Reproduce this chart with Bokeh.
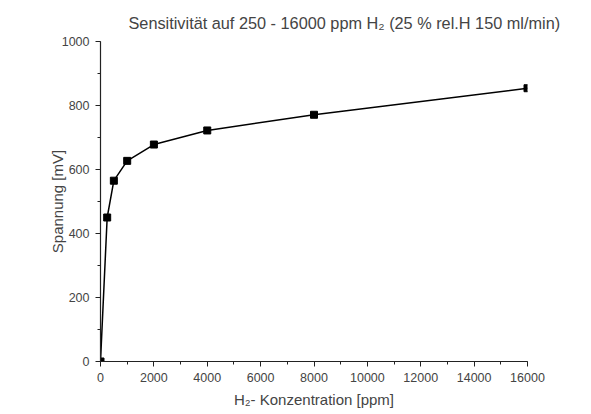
from bokeh.plotting import figure
from bokeh.models import Range1d, FixedTicker, Title
from bokeh.embed import file_html
from bokeh.resources import INLINE

# H2 concentration (ppm) and sensor voltage (mV)
konzentration_ppm = [0, 250, 500, 1000, 2000, 4000, 8000, 16000]
spannung_mv = [0, 450, 565, 627, 678, 722, 771, 854]

x_ticks = [0, 2000, 4000, 6000, 8000, 10000, 12000, 14000, 16000]
y_ticks = [0, 200, 400, 600, 800, 1000]

FONT = "Liberation Sans"
TEXT = "#444444"

p = figure(
    width=591, height=414,
    frame_width=427, frame_height=320,
    min_border_left=100, min_border_right=64,
    min_border_top=41, min_border_bottom=53,
    x_range=Range1d(0, 16000), y_range=Range1d(0, 1000),
    output_backend="svg", toolbar_location=None,
)

p.title = Title(
    text="Sensitivität auf 250 - 16000 ppm H₂ (25 % rel.H 150 ml/min)",
    align="left", offset=28,
    text_font=FONT, text_font_size="16.3px", text_font_style="normal",
    text_color=TEXT, standoff=20,
)

p.outline_line_color = None
p.background_fill_color = "white"
p.border_fill_color = "white"
p.grid.visible = False

for ax in (p.xaxis[0], p.yaxis[0]):
    ax.axis_line_color = "#222222"
    ax.axis_line_width = 1.2
    ax.major_tick_line_color = "#222222"
    ax.minor_tick_line_color = "#222222"
    ax.major_tick_out = 5
    ax.major_tick_in = 0
    ax.minor_tick_out = 3
    ax.minor_tick_in = 0
    ax.major_label_text_font = FONT
    ax.major_label_text_font_size = "12.5px"
    ax.major_label_text_color = TEXT
    ax.axis_label_text_font = FONT
    ax.axis_label_text_font_size = "15px"
    ax.axis_label_text_font_style = "normal"
    ax.axis_label_text_color = TEXT

p.xaxis.ticker = FixedTicker(ticks=x_ticks, minor_ticks=list(range(0, 16001, 1000)))
p.yaxis.ticker = FixedTicker(ticks=y_ticks, minor_ticks=list(range(0, 1001, 100)))
p.xaxis.axis_label = "H₂- Konzentration [ppm]"
p.yaxis.axis_label = "Spannung [mV]"
p.xaxis.major_label_standoff = 6
p.yaxis.major_label_standoff = 6
p.xaxis.axis_label_standoff = 6
p.yaxis.axis_label_standoff = -7

p.line(konzentration_ppm, spannung_mv, line_color="black", line_width=1.5)
p.scatter(konzentration_ppm, spannung_mv, marker="square", size=7,
          fill_color="black", line_color="black")

open("out.html", "w").write(file_html(p, INLINE))
